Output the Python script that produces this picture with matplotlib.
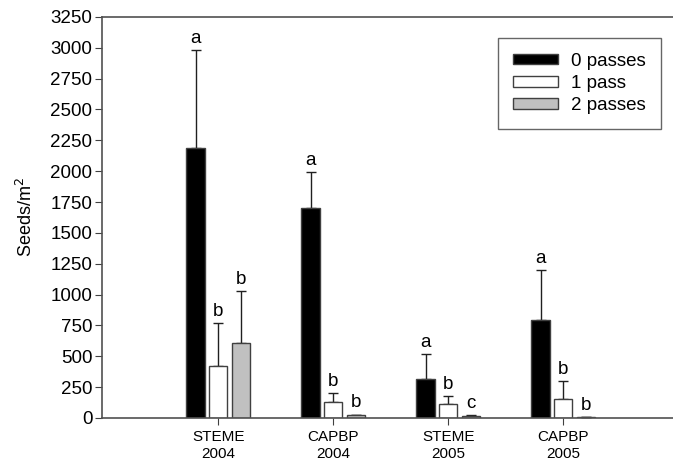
import matplotlib.pyplot as plt
import numpy as np

plt.rcParams['font.family'] = 'Liberation Sans'

# Datos
grupos = ['STEME\n2004', 'CAPBP\n2004', 'STEME\n2005', 'CAPBP\n2005']
pases_0 = [2190, 1705, 318, 794]
pases_1 = [424, 127, 111, 152]
pases_2 = [610, 22, 19, 5]
err_0 = [790, 290, 203, 406]
err_1 = [348, 76, 65, 148]
err_2 = [422, 6, 6, 0]
letras_0 = ['a', 'a', 'a', 'a']
letras_1 = ['b', 'b', 'b', 'b']
letras_2 = ['b', 'b', 'c', 'b']

series = [
    ('0 passes', pases_0, err_0, letras_0, 'black'),
    ('1 pass', pases_1, err_1, letras_1, 'white'),
    ('2 passes', pases_2, err_2, letras_2, '#c0c0c0'),
]

x = np.arange(1, len(grupos) + 1)
ancho = 0.16
paso = 0.196

fig = plt.figure(figsize=(6.73, 4.61), dpi=100)
ax = fig.add_axes([0.1516, 0.0933, 0.8484, 0.870])

for i, (nombre, vals, errs, letras, color) in enumerate(series):
    pos = x + (i - 1) * paso
    ax.bar(pos, vals, ancho, color=color, edgecolor='#404040', linewidth=1,
           label=nombre, zorder=2)
    ax.errorbar(pos, vals, yerr=[np.zeros(len(vals)), errs], fmt='none',
                ecolor='#202020', elinewidth=1, capsize=3.5, capthick=1, zorder=1)
    for p, v, e, l in zip(pos, vals, errs, letras):
        ax.text(p, v + e + 25, l, ha='center', va='bottom', fontsize=13.5)

ax.set_xlim(-0.01, 4.955)
ax.set_ylim(0, 3250)
ax.set_yticks(np.arange(0, 3251, 250))
ax.set_xticks(x)
ax.set_xticklabels(grupos, fontsize=11, linespacing=1.25)
ax.tick_params(axis='y', labelsize=13.5, direction='out', length=5, color='#404040', pad=2)
ax.tick_params(axis='x', direction='out', length=5, color='#404040')
ax.set_ylabel('Seeds/m$^2$', fontsize=13, labelpad=10)

for lado in ['left', 'bottom', 'top']:
    ax.spines[lado].set_color('#505050')
    ax.spines[lado].set_linewidth(1.2)
ax.spines['right'].set_visible(False)

leg = ax.legend(loc='upper right', bbox_to_anchor=(0.979, 0.948), borderaxespad=0,
                fontsize=13.5, fancybox=False, frameon=True, handlelength=2.4,
                handleheight=0.5, borderpad=0.8, labelspacing=0.28, handletextpad=0.7)
leg.get_frame().set_edgecolor('#404040')
leg.get_frame().set_linewidth(1)

fig.savefig('out.png', dpi=100)
